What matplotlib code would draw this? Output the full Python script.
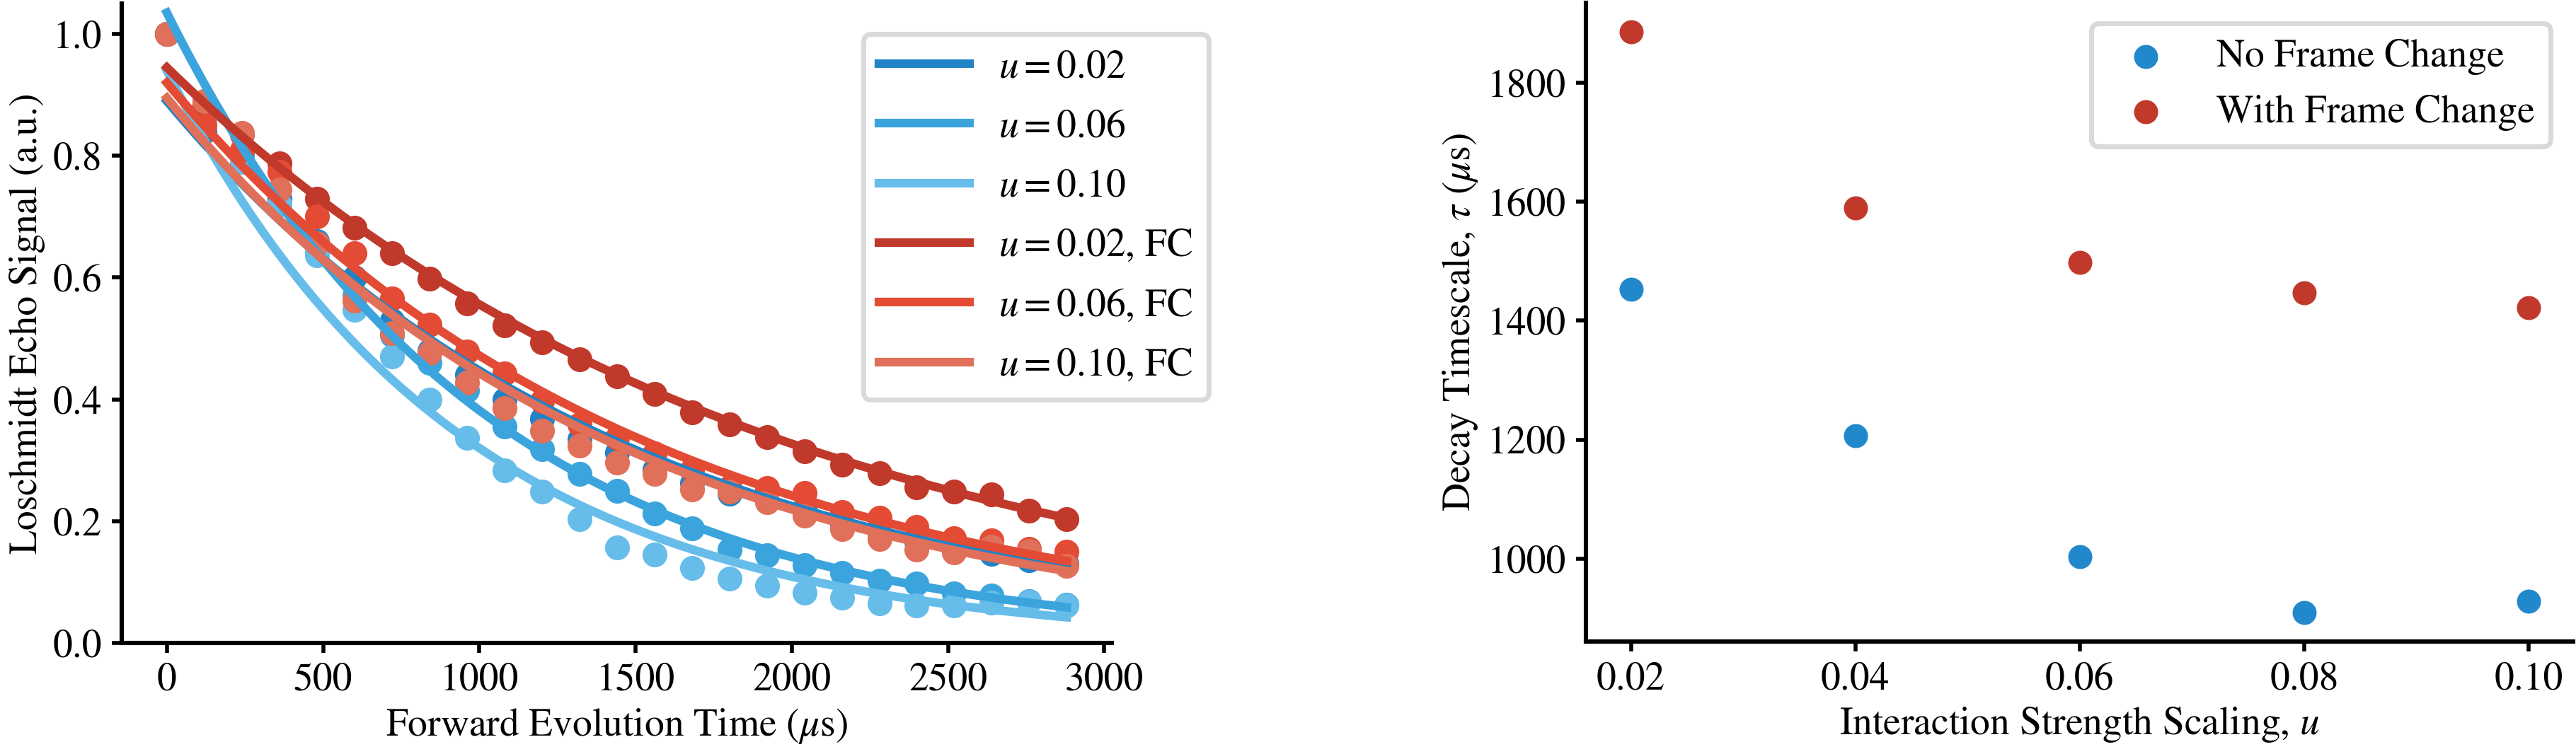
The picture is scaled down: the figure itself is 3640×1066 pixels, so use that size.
import numpy as np
import matplotlib
matplotlib.use("Agg")
import matplotlib.pyplot as plt

plt.rcParams["font.family"] = ["STIXGeneral", "Liberation Serif", "DejaVu Serif"]
plt.rcParams["mathtext.fontset"] = "stix"
plt.rcParams["font.size"] = 20

# ---------- data ----------
t_us = [0, 120, 240, 360, 480, 600, 720, 840, 960, 1080, 1200, 1320, 1440,
        1560, 1680, 1800, 1920, 2040, 2160, 2280, 2400, 2520, 2640, 2760, 2880]

echo_u002 = [1.0, 0.84, 0.80, 0.73, 0.66, 0.60, 0.53, 0.48, 0.44, 0.40, 0.368, 0.335, 0.312,
             0.285, 0.262, 0.245, 0.232, 0.222, 0.195, 0.180, 0.166, 0.155, 0.146, 0.136, 0.130]
echo_u006 = [1.0, 0.89, 0.80, 0.72, 0.64, 0.57, 0.505, 0.46, 0.415, 0.355, 0.318, 0.278, 0.250,
             0.213, 0.188, 0.153, 0.144, 0.128, 0.115, 0.102, 0.097, 0.081, 0.078, 0.068, 0.063]
echo_u010 = [1.0, 0.86, 0.79, 0.72, 0.636, 0.547, 0.470, 0.400, 0.337, 0.283, 0.248, 0.203, 0.157,
             0.145, 0.123, 0.106, 0.094, 0.082, 0.074, 0.065, 0.061, 0.062, 0.066, 0.067, 0.062]
echo_u002_fc = [1.0, 0.885, 0.835, 0.788, 0.730, 0.682, 0.640, 0.598, 0.557, 0.521, 0.494, 0.466, 0.438,
                0.409, 0.379, 0.359, 0.338, 0.315, 0.2925, 0.279, 0.256, 0.248, 0.244, 0.217, 0.203]
echo_u006_fc = [1.0, 0.85, 0.81, 0.773, 0.70, 0.64, 0.566, 0.523, 0.479, 0.442, 0.397, 0.359, 0.337,
                0.311, 0.284, 0.255, 0.254, 0.246, 0.215, 0.206, 0.191, 0.172, 0.168, 0.155, 0.150]
echo_u010_fc = [1.0, 0.89, 0.837, 0.745, 0.656, 0.562, 0.509, 0.476, 0.427, 0.386, 0.349, 0.324, 0.296,
                0.278, 0.252, 0.248, 0.231, 0.209, 0.187, 0.171, 0.153, 0.149, 0.158, 0.151, 0.127]

# right panel: fitted decay timescales
u_vals = [0.02, 0.04, 0.06, 0.08, 0.10]
tau_no_fc = [1453, 1206, 1003, 909, 928]
tau_fc = [1885, 1589, 1498, 1447, 1422]

# fit amplitudes for the curves shown on the left (u = 0.02, 0.06, 0.10)
amp_no_fc = [0.89, 1.035, 0.94]
amp_fc = [0.945, 0.92, 0.895]
shown_idx = [0, 2, 4]

colors_no_fc = ["#2083c6", "#3ca4dc", "#67bdea"]
colors_fc = ["#c0392b", "#e34b34", "#e07059"]

# ---------- figure ----------
fig = plt.figure(figsize=(18.2, 5.33), dpi=200)
ax1 = fig.add_axes([0.0473, 0.1473, 0.3843, 0.848])
ax2 = fig.add_axes([0.6157, 0.1487, 0.3833, 0.8475])

series = [
    (echo_u002, amp_no_fc[0], tau_no_fc[shown_idx[0]], colors_no_fc[0], r"$u=0.02$"),
    (echo_u006, amp_no_fc[1], tau_no_fc[shown_idx[1]], colors_no_fc[1], r"$u=0.06$"),
    (echo_u010, amp_no_fc[2], tau_no_fc[shown_idx[2]], colors_no_fc[2], r"$u=0.10$"),
    (echo_u002_fc, amp_fc[0], tau_fc[shown_idx[0]], colors_fc[0], r"$u=0.02$, FC"),
    (echo_u006_fc, amp_fc[1], tau_fc[shown_idx[1]], colors_fc[1], r"$u=0.06$, FC"),
    (echo_u010_fc, amp_fc[2], tau_fc[shown_idx[2]], colors_fc[2], r"$u=0.10$, FC"),
]

t_fit = np.linspace(t_us[0], t_us[-1], 400)
for vals, amp, tau, col, lab in series:
    ax1.scatter(t_us, vals, s=160, color=col, linewidths=0, zorder=2)
for vals, amp, tau, col, lab in series:
    ax1.plot(t_fit, amp * np.exp(-t_fit / tau), color=col, lw=4.4, label=lab, zorder=3)

ax1.set_ylim(0, 1.05)
ax1.set_xticks([0, 500, 1000, 1500, 2000, 2500, 3000])
ax1.set_yticks([0.0, 0.2, 0.4, 0.6, 0.8, 1.0])
ax1.set_yticklabels(["0.0", "0.2", "0.4", "0.6", "0.8", "1.0"])
ax1.set_xlabel(r"Forward Evolution Time ($\mu$s)")
ax1.set_ylabel("Loschmidt Echo Signal (a.u.)")
leg1 = ax1.legend(loc="upper right", bbox_to_anchor=(1.098, 0.952), borderaxespad=0,
                  handlelength=2.3, handletextpad=0.75, labelspacing=0.6,
                  framealpha=1, edgecolor="#d9d9d9")
leg1.get_frame().set_linewidth(2.5)

ax2.scatter(u_vals, tau_no_fc, s=150, color="#2288cc", linewidths=0, label="No Frame Change")
ax2.scatter(u_vals, tau_fc, s=150, color="#c0392b", linewidths=0, label="With Frame Change")
ax2.set_xticks(u_vals)
ax2.set_xticklabels(["0.02", "0.04", "0.06", "0.08", "0.10"])
ax2.set_yticks([1000, 1200, 1400, 1600, 1800])
ax2.set_xlabel(r"Interaction Strength Scaling, $u$")
ax2.set_ylabel(r"Decay Timescale, $\tau$ ($\mu$s)")
leg2 = ax2.legend(loc="upper right", bbox_to_anchor=(0.977, 0.968), borderaxespad=0,
                  framealpha=1, edgecolor="#d9d9d9")
leg2.get_frame().set_linewidth(2.5)

for ax in (ax1, ax2):
    ax.spines["top"].set_visible(False)
    ax.spines["right"].set_visible(False)
    ax.spines["left"].set_linewidth(2.2)
    ax.spines["bottom"].set_linewidth(2.2)
    ax.tick_params(width=2, length=5, pad=5)

fig.savefig("out.png", dpi=200)
